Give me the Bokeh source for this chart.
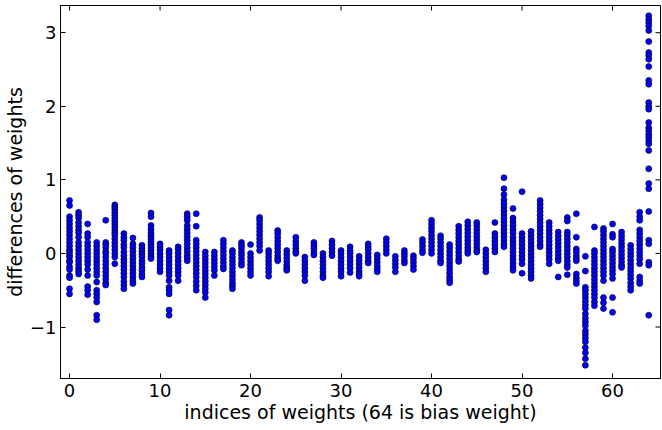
import math
from bokeh.plotting import figure
from bokeh.models import FixedTicker, ColumnDataSource, Range1d
from bokeh.embed import file_html
from bokeh.resources import INLINE

# differences of weights, one list per weight index
w0 = [0.72, 0.65, 0.5, 0.45, 0.4, 0.35, 0.3, 0.25, 0.2, 0.15, 0.1, 0.05, 0.02, -0.02, -0.05, -0.1, -0.12, -0.18, -0.22, -0.3, -0.33, -0.48, -0.55]
w1 = [0.56, 0.52, 0.48, 0.42, 0.37, 0.32, 0.28, 0.22, 0.15, 0.1, 0.05, 0.0, -0.05, -0.1, -0.15, -0.2, -0.24, -0.28]
w2 = [0.4, 0.27, 0.22, 0.15, 0.1, 0.05, 0.0, -0.05, -0.1, -0.15, -0.22, -0.3, -0.45, -0.5, -0.56]
w3 = [0.15, 0.1, 0.05, 0.0, -0.05, -0.1, -0.15, -0.2, -0.25, -0.3, -0.39, -0.5, -0.55, -0.6, -0.66, -0.84, -0.9]
w4 = [0.45, 0.15, 0.12, 0.08, 0.03, 0.0, -0.05, -0.1, -0.15, -0.2, -0.25, -0.3, -0.35, -0.4, -0.43]
w5 = [0.66, 0.63, 0.6, 0.56, 0.52, 0.48, 0.44, 0.4, 0.36, 0.32, 0.28, 0.25, 0.2, 0.15, 0.1, 0.05, 0.0, -0.05, -0.14]
w6 = [0.27, 0.22, 0.18, 0.12, 0.08, 0.02, -0.03, -0.08, -0.12, -0.17, -0.22, -0.27, -0.32, -0.38, -0.43, -0.48]
w7 = [0.21, 0.13, 0.08, 0.03, -0.02, -0.07, -0.12, -0.17, -0.22, -0.27, -0.32, -0.37, -0.41]
w8 = [0.11, 0.07, 0.03, -0.01, -0.05, -0.1, -0.14, -0.19, -0.23, -0.28, -0.32]
w9 = [0.55, 0.5, 0.38, 0.33, 0.28, 0.24, 0.2, 0.16, 0.12, 0.08, 0.04, 0.0, -0.04, -0.07]
w10 = [0.13, 0.09, 0.05, 0.0, -0.05, -0.1, -0.15, -0.2, -0.25]
w11 = [0.04, 0.0, -0.05, -0.1, -0.15, -0.2, -0.25, -0.3, -0.37, -0.46, -0.5, -0.55, -0.77, -0.84]
w12 = [0.09, 0.05, 0.0, -0.05, -0.1, -0.15, -0.2, -0.25, -0.3, -0.37]
w13 = [0.54, 0.5, 0.45, 0.38, 0.33, 0.28, 0.23, 0.18, 0.13, 0.08, 0.03, -0.02, -0.06, -0.1]
w14 = [0.54, 0.37, 0.18, 0.13, 0.08, 0.03, -0.02, -0.07, -0.12, -0.17, -0.22, -0.27, -0.32, -0.38, -0.44, -0.5]
w15 = [0.02, -0.03, -0.08, -0.13, -0.18, -0.23, -0.28, -0.33, -0.38, -0.43, -0.48, -0.53, -0.6]
w16 = [0.02, -0.03, -0.08, -0.13, -0.18, -0.23, -0.3]
w17 = [0.18, 0.13, 0.08, 0.03, -0.02, -0.07, -0.12, -0.17, -0.21]
w18 = [0.04, 0.0, -0.05, -0.1, -0.15, -0.2, -0.25, -0.3, -0.35, -0.4, -0.44, -0.48]
w19 = [0.15, 0.11, 0.07, 0.02, -0.02, -0.07, -0.12, -0.16]
w20 = [0.12, 0.0, -0.05, -0.1, -0.15, -0.2, -0.25, -0.3]
w21 = [0.49, 0.45, 0.4, 0.35, 0.3, 0.25, 0.2, 0.15, 0.1, 0.04]
w22 = [0.04, 0.0, -0.05, -0.1, -0.15, -0.2, -0.25, -0.31]
w23 = [0.31, 0.27, 0.22, 0.17, 0.12, 0.07, 0.02, -0.03, -0.07, -0.1]
w24 = [0.04, -0.01, -0.06, -0.11, -0.16, -0.2, -0.23]
w25 = [0.22, 0.17, 0.12, 0.07, 0.03, 0.0]
w26 = [-0.05, -0.1, -0.15, -0.2, -0.25, -0.3, -0.37]
w27 = [0.15, 0.11, 0.07, 0.02, -0.02]
w28 = [0.0, -0.05, -0.1, -0.15, -0.2, -0.25, -0.3, -0.33]
w29 = [0.17, 0.12, 0.07, 0.02, -0.03]
w30 = [0.04, 0.0, -0.05, -0.1, -0.15, -0.2, -0.25, -0.31]
w31 = [0.09, 0.04, 0.0, -0.05, -0.1, -0.15, -0.2, -0.26]
w32 = [-0.04, -0.09, -0.14, -0.19, -0.24, -0.28, -0.31]
w33 = [0.13, 0.09, 0.05, 0.0, -0.05, -0.1, -0.13]
w34 = [-0.02, -0.07, -0.12, -0.17, -0.21, -0.25]
w35 = [0.2, 0.15, 0.1, 0.05, 0.0]
w36 = [-0.04, -0.09, -0.14, -0.19, -0.25]
w37 = [0.04, 0.0, -0.04, -0.09, -0.13]
w38 = [-0.03, -0.07, -0.12, -0.17, -0.22]
w39 = [0.19, 0.15, 0.1, 0.05, 0.01]
w40 = [0.45, 0.4, 0.35, 0.3, 0.25, 0.2, 0.15, 0.1, 0.05, 0.0]
w41 = [0.24, 0.2, 0.15, 0.1, 0.05, 0.0, -0.05, -0.1, -0.13]
w42 = [0.12, 0.08, 0.03, -0.02, -0.07, -0.12, -0.17, -0.22, -0.27, -0.32, -0.36, -0.4]
w43 = [0.37, 0.32, 0.27, 0.22, 0.17, 0.12, 0.07, 0.02, -0.03, -0.08, -0.11]
w44 = [0.43, 0.38, 0.33, 0.28, 0.23, 0.18, 0.13, 0.08, 0.04, 0.0]
w45 = [0.42, 0.38, 0.33, 0.28, 0.23, 0.18, 0.13, 0.08, 0.04, 0.02]
w46 = [0.05, 0.0, -0.05, -0.1, -0.15, -0.2, -0.25]
w47 = [0.42, 0.27, 0.22, 0.17, 0.12, 0.07, 0.02]
w48 = [1.03, 0.88, 0.8, 0.73, 0.68, 0.63, 0.58, 0.53, 0.48, 0.43, 0.38, 0.33, 0.28, 0.23, 0.18, 0.13, 0.09]
w49 = [0.61, 0.48, 0.43, 0.38, 0.33, 0.28, 0.22, 0.17, 0.12, 0.07, 0.02, -0.03, -0.08, -0.13, -0.18, -0.23]
w50 = [0.84, 0.27, 0.22, 0.17, 0.12, 0.07, 0.02, -0.03, -0.08, -0.14, -0.27]
w51 = [0.3, 0.25, 0.2, 0.15, 0.1, 0.05, 0.0, -0.05, -0.1, -0.15, -0.2, -0.25, -0.3, -0.34]
w52 = [0.72, 0.67, 0.62, 0.57, 0.52, 0.47, 0.42, 0.37, 0.32, 0.27, 0.22, 0.17, 0.12, 0.09]
w53 = [0.42, 0.37, 0.32, 0.27, 0.22, 0.17, 0.12, 0.07, 0.02, -0.03, -0.08, -0.14]
w54 = [0.29, 0.24, 0.19, 0.14, 0.09, 0.04, -0.01, -0.06, -0.1, -0.32]
w55 = [0.49, 0.44, 0.29, 0.25, 0.2, 0.15, 0.1, 0.05, 0.0, -0.05, -0.1, -0.15, -0.19, -0.29]
w56 = [0.54, 0.22, 0.06, 0.02, -0.03, -0.07, -0.1, -0.28, -0.33, -0.37, -0.41]
w57 = [-0.04, -0.24, -0.46, -0.5, -0.55, -0.6, -0.65, -0.7, -0.75, -0.82, -0.88, -0.93, -0.98, -1.05, -1.1, -1.15, -1.2, -1.28, -1.35, -1.43, -1.52]
w58 = [0.36, 0.04, 0.0, -0.05, -0.1, -0.15, -0.2, -0.25, -0.3, -0.35, -0.4, -0.45, -0.5, -0.55, -0.6, -0.66, -0.71]
w59 = [0.34, 0.3, 0.25, 0.2, 0.15, 0.1, 0.05, 0.0, -0.05, -0.1, -0.15, -0.2, -0.25, -0.3, -0.37, -0.6, -0.67, -0.75]
w60 = [0.4, 0.26, 0.22, 0.06, 0.02, -0.03, -0.08, -0.13, -0.18, -0.23, -0.28, -0.34, -0.6, -0.8]
w61 = [0.29, 0.24, 0.19, 0.14, 0.09, 0.04, -0.01, -0.06, -0.11, -0.16, -0.19]
w62 = [0.11, 0.06, 0.01, -0.04, -0.09, -0.14, -0.19, -0.24, -0.29, -0.34, -0.4, -0.45, -0.5]
w63 = [0.56, 0.5, 0.45, 0.32, 0.27, 0.22, 0.17, 0.12, 0.07, 0.02, -0.03, -0.08, -0.14, -0.32, -0.37, -0.41]
w64 = [3.23, 3.18, 3.14, 3.09, 3.03, 2.88, 2.73, 2.69, 2.64, 2.54, 2.35, 2.3, 2.05, 2.0, 1.96, 1.78, 1.71,
       1.67, 1.62, 1.58, 1.53, 1.49, 1.4, 1.15, 0.95, 0.88, 0.57, 0.18, 0.13, -0.12, -0.16, -0.84]

columns = [w0, w1, w2, w3, w4, w5, w6, w7, w8, w9, w10, w11, w12, w13, w14, w15, w16, w17, w18, w19,
           w20, w21, w22, w23, w24, w25, w26, w27, w28, w29, w30, w31, w32, w33, w34, w35, w36, w37, w38, w39,
           w40, w41, w42, w43, w44, w45, w46, w47, w48, w49, w50, w51, w52, w53, w54, w55, w56, w57, w58, w59,
           w60, w61, w62, w63, w64]

x_ticks = [0, 10, 20, 30, 40, 50, 60]
y_ticks = [-1, 0, 1, 2, 3]

X_START, X_END = -1, 65.3
Y_START, Y_END = -1.7, 3.37

xs, ys = [], []
for idx, vals in enumerate(columns):
    for v in vals:
        xs.append(idx)
        ys.append(v)
src = ColumnDataSource(dict(x=xs, y=ys))

FONT = "DejaVu Sans"

p = figure(width=662, height=430, output_backend="svg", toolbar_location=None,
           x_range=Range1d(X_START, X_END), y_range=Range1d(Y_START, Y_END),
           min_border_left=4, min_border_right=2, min_border_top=5, min_border_bottom=52)
p.background_fill_color = "white"
p.border_fill_color = "white"
p.outline_line_color = "black"
p.outline_line_width = 1
p.xgrid.visible = False
p.ygrid.visible = False

p.scatter("x", "y", source=src, size=6, fill_color="#0000ff", line_color="black", line_width=0.6)

for ax, ticks in ((p.xaxis[0], x_ticks), (p.yaxis[0], y_ticks)):
    ax.ticker = FixedTicker(ticks=ticks)
    ax.major_tick_in = 5
    ax.major_tick_out = 0
    ax.minor_tick_line_color = None
    ax.axis_line_color = "black"
    ax.major_label_text_font = FONT
    ax.major_label_text_font_size = "18px"
    ax.major_label_text_color = "black"
    ax.axis_label_text_font = FONT
    ax.axis_label_text_font_size = "19px"
    ax.axis_label_text_font_style = "normal"
    ax.axis_label_text_color = "black"

p.yaxis[0].major_label_overrides = {-1: "\u22121"}
p.xaxis[0].axis_label = "indices of weights (64 is bias weight)"
p.yaxis[0].axis_label = "differences of weights"
p.xaxis[0].major_label_standoff = 5
p.xaxis[0].axis_label_standoff = 1
p.yaxis[0].major_label_standoff = 4
p.yaxis[0].axis_label_standoff = 1

# inward tick marks on the top and right spines (half of each dash is clipped by the frame)
p.scatter(x=x_ticks, y=[Y_END] * len(x_ticks), marker="dash", angle=math.pi / 2,
          size=10, line_color="black", line_width=1)
p.scatter(x=[X_END] * len(y_ticks), y=y_ticks, marker="dash",
          size=10, line_color="black", line_width=1)

open("out.html", "w").write(file_html(p, INLINE))
